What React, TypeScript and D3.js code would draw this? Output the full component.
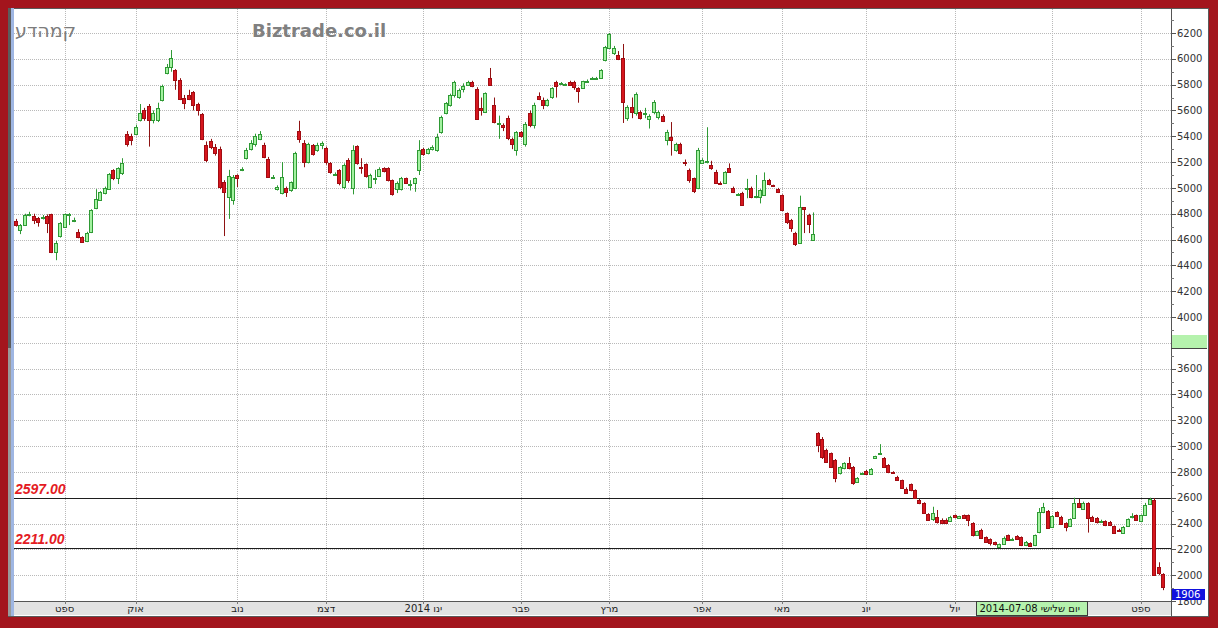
import React, { useEffect, useRef } from 'react';
import * as d3 from 'd3';

// daily OHLC, Sep 2013 - Sep 2014 (trading-day index)
const opens = [
  4743, 4673, 4712, 4795, 4782, 4765, 4772, 4782, 4797, 4503, 4627, 4697, 4795, 4745, 4657, 4619, 4588, 4657, 4843, 4906, 4960, 4991, 5138, 5076, 5115,
  5420, 5400, 5420, 5525, 5600, 5634, 5525, 5525, 5680, 5890, 5937, 5913, 5836, 5696, 5720, 5740, 5650, 5570, 5330, 5360, 5320, 5300, 5045, 4929, 4906,
  5100, 5140, 5231, 5300, 5340, 5380, 5330, 5223, 5080, 4990, 4960, 5000, 4983, 5000, 5440, 5350, 5200, 5330, 5290, 5330, 5310, 5192, 5105, 5138,
  5007, 5215, 5000, 5324, 5165, 5185, 5007, 5074, 5092, 5154, 5154, 5060, 4990, 4990, 5076, 5028, 5037, 5138, 5300, 5270, 5300, 5293, 5433, 5580, 5642,
  5720, 5704, 5766, 5797, 5820, 5766, 5620, 5587, 5851, 5642, 5497, 5490, 5541, 5380, 5293, 5433, 5340, 5580, 5487, 5712, 5680, 5642, 5704, 5820, 5810,
  5800, 5820, 5820, 5774, 5774, 5826, 5850,
  5848, 5851, 5991, 6084, 6045, 6029, 6006, 5541, 5626, 5580, 5587, 5570, 5530, 5587, 5549, 5557, 5370, 5394, 5293, 5340, 5200, 5138, 5076, 5000, 5192,
  5200, 5177, 5123, 5040, 5037, 5154, 5000, 4950, 4960, 4990, 5000, 4930, 4929, 4944, 5060, 5020, 4990, 4944, 4805, 4750, 4650, 4573, 4850, 4790, 4600,
  3100, 3054, 2969, 2945, 2891, 2790, 2829, 2868, 2837, 2721, 2790, 2806, 2783, 2907, 2945, 2907, 2852, 2800, 2760, 2736, 2667, 2705, 2659, 2581, 2558,
  2473, 2434, 2450, 2430, 2430, 2420, 2465, 2445, 2465, 2465, 2403, 2310, 2349, 2295, 2280, 2256, 2217, 2240, 2310, 2280, 2302, 2295, 2232, 2248, 2232,
  2333, 2488, 2496, 2372, 2488, 2450, 2403, 2380, 2442, 2558, 2511, 2558, 2450, 2442, 2420, 2419, 2411, 2380, 2350, 2325, 2380, 2450, 2465, 2420, 2465,
  2550, 2581, 2060, 2008,
];
const highs = [
  4760, 4720, 4800, 4815, 4800, 4775, 4790, 4795, 4800, 4590, 4735, 4800, 4805, 4770, 4680, 4625, 4660, 4835, 4990, 4975, 5010, 5115, 5145, 5160, 5230,
  5440, 5420, 5490, 5650, 5620, 5650, 5600, 5660, 5800, 5960, 6068, 5920, 5850, 5720, 5760, 5750, 5660, 5580, 5360, 5380, 5340, 5320, 5060, 5140, 5100,
  5105, 5160, 5310, 5370, 5420, 5440, 5350, 5240, 5100, 5020, 5200, 5010, 5050, 5280, 5520, 5370, 5350, 5340, 5350, 5360, 5320, 5200, 5120, 5145,
  5190, 5230, 5330, 5330, 5230, 5190, 5110, 5140, 5160, 5160, 5160, 5065, 5050, 5085, 5080, 5060, 5080, 5370, 5310, 5310, 5330, 5420, 5560, 5665, 5730,
  5830, 5770, 5810, 5830, 5830, 5780, 5700, 5740, 5929, 5700, 5560, 5500, 5560, 5390, 5440, 5440, 5510, 5600, 5660, 5740, 5700, 5690, 5780, 5830, 5820,
  5810, 5830, 5830, 5780, 5830, 5840, 5860,
  5860, 5920, 6100, 6200, 6100, 6060, 6115, 5640, 5700, 5740, 5600, 5620, 5570, 5680, 5600, 5570, 5450, 5510, 5350, 5350, 5220, 5150, 5080, 5310, 5230,
  5470, 5210, 5140, 5050, 5130, 5190, 5010, 4960, 4970, 5070, 5010, 5100, 4990, 5120, 5070, 5025, 5000, 4950, 4810, 4760, 4660, 4940, 4851, 4800, 4810,
  3108, 3070, 2980, 2950, 2900, 2845, 2875, 2915, 2845, 2760, 2795, 2815, 2830, 2925, 3015, 2915, 2860, 2805, 2770, 2740, 2680, 2710, 2665, 2590, 2565,
  2480, 2530, 2505, 2440, 2440, 2460, 2470, 2460, 2470, 2470, 2410, 2345, 2360, 2300, 2285, 2260, 2245, 2300, 2315, 2290, 2310, 2300, 2265, 2255, 2315,
  2520, 2560, 2505, 2465, 2495, 2460, 2410, 2440, 2600, 2590, 2570, 2565, 2460, 2450, 2430, 2425, 2420, 2385, 2360, 2380, 2440, 2480, 2470, 2470, 2560,
  2600, 2597, 2100, 2015,
];
const lows = [
  4700, 4642, 4705, 4780, 4720, 4700, 4755, 4650, 4495, 4440, 4615, 4690, 4712, 4735, 4610, 4575, 4580, 4650, 4835, 4900, 4950, 4985, 5060, 5030, 5100,
  5320, 5330, 5410, 5515, 5520, 5320, 5500, 5510, 5670, 5880, 5900, 5760, 5680, 5610, 5680, 5600, 5560, 5370, 5200, 5300, 5250, 4990, 4627, 4760, 4870,
  5007, 5130, 5220, 5290, 5320, 5370, 5230, 5080, 5070, 4980, 4950, 4930, 4970, 4990, 5350, 5160, 5190, 5250, 5280, 5300, 5180, 5110, 5095, 5020,
  4990, 5040, 4950, 5180, 5110, 5080, 5000, 5030, 5085, 5120, 5050, 4940, 4960, 4980, 5030, 4980, 4970, 5100, 5250, 5260, 5290, 5280, 5420, 5570, 5630,
  5700, 5690, 5740, 5790, 5780, 5533, 5560, 5580, 5790, 5500, 5380, 5440, 5370, 5300, 5250, 5390, 5320, 5470, 5460, 5680, 5610, 5630, 5690, 5700, 5800,
  5790, 5790, 5760, 5660, 5770, 5820, 5845,
  5840, 5845, 5980, 6080, 6030, 5990, 5503, 5520, 5540, 5560, 5530, 5540, 5460, 5570, 5530, 5510, 5330, 5250, 5280, 5260, 5170, 5040, 4960, 4990, 5185,
  5190, 5140, 5030, 5030, 5030, 5130, 4960, 4940, 4860, 4920, 4920, 4920, 4880, 4940, 5020, 5010, 4960, 4820, 4720, 4660, 4550, 4570, 4650, 4650, 4596,
  2953, 2900, 2870, 2830, 2720, 2780, 2820, 2820, 2700, 2715, 2785, 2780, 2780, 2900, 2940, 2830, 2790, 2790, 2730, 2670, 2630, 2650, 2590, 2550, 2475,
  2420, 2420, 2400, 2400, 2400, 2415, 2440, 2440, 2435, 2380, 2300, 2305, 2280, 2250, 2230, 2230, 2210, 2235, 2265, 2270, 2275, 2225, 2225, 2220, 2225,
  2325, 2480, 2360, 2365, 2450, 2390, 2340, 2375, 2435, 2520, 2505, 2330, 2415, 2400, 2410, 2380, 2380, 2320, 2340, 2320, 2375, 2440, 2420, 2410, 2460,
  2545, 2000, 2000, 1884,
];
const closes = [
  4712, 4712, 4790, 4800, 4750, 4735, 4776, 4727, 4503, 4573, 4727, 4797, 4800, 4752, 4619, 4580, 4650, 4828, 4913, 4968, 5000, 5107, 5076, 5154, 5192,
  5340, 5370, 5470, 5580, 5540, 5525, 5580, 5620, 5790, 5937, 6006, 5836, 5688, 5657, 5690, 5640, 5603, 5380, 5220, 5320, 5270, 5007, 4968, 5092, 5084,
  5076, 5150, 5293, 5350, 5400, 5420, 5240, 5084, 5088, 5007, 5084, 4968, 5045, 5270, 5380, 5200, 5340, 5260, 5330, 5350, 5200, 5123, 5109, 5037,
  5177, 5060, 5293, 5192, 5155, 5092, 5100, 5078, 5146, 5130, 5060, 4952, 5040, 5076, 5037, 5032, 5076, 5293, 5262, 5300, 5320, 5394, 5549, 5657, 5720,
  5820, 5758, 5790, 5820, 5790, 5533, 5600, 5735, 5797, 5510, 5503, 5470, 5386, 5340, 5433, 5400, 5495, 5487, 5642, 5690, 5642, 5680, 5774, 5790, 5814,
  5803, 5797, 5780, 5750, 5828, 5830, 5852,
  5852, 5913, 6092, 6192, 6084, 5998, 5665, 5626, 5587, 5727, 5541, 5580, 5555, 5665, 5587, 5518, 5433, 5370, 5340, 5270, 5192, 5060, 4975, 5293, 5215,
  5205, 5154, 5037, 5034, 5123, 5123, 4968, 4952, 4867, 4998, 4929, 4940, 4983, 5060, 5030, 5018, 4968, 4828, 4735, 4689, 4565, 4851, 4840, 4720, 4640,
  3007, 2914, 2876, 2837, 2752, 2837, 2868, 2829, 2713, 2752, 2792, 2783, 2821, 2922, 2950, 2837, 2798, 2795, 2736, 2674, 2636, 2659, 2597, 2558, 2481,
  2426, 2481, 2411, 2408, 2408, 2450, 2450, 2457, 2442, 2426, 2310, 2341, 2287, 2256, 2248, 2240, 2240, 2287, 2271, 2282, 2279, 2232, 2256, 2225, 2310,
  2488, 2527, 2364, 2457, 2457, 2395, 2372, 2434, 2558, 2527, 2558, 2442, 2419, 2411, 2422, 2388, 2388, 2325, 2348, 2372, 2434, 2455, 2426, 2465, 2543,
  2589, 2000, 2015, 1906,
];

// first trading day of each month (index into the arrays above)
const monthTickIndex = [11, 27, 50, 70, 92, 114, 134, 155, 173, 192, 212, 234, 254];
const monthLabels = ['ספט', 'אוק', 'נוב', 'דצמ', '2014 ינו', 'פבר', 'מרץ', 'אפר', 'מאי', 'יונ', 'יול', 'אוג', 'ספט'];

const priceTicks = [1800, 2000, 2200, 2400, 2600, 2800, 3000, 3200, 3400, 3600, 3800, 4000, 4200, 4400, 4600, 4800, 5000, 5200, 5400, 5600, 5800, 6000, 6200];
const supportLevels = [2597, 2211];
const lastPrice = 1906;
const cursorIndex = 217;
const cursorDate = '2014-07-08 יום שלישי';
const stockName = 'קמהדע';
const siteName = 'Biztrade.co.il';

const W = 1218;
const H = 628;
const FRAME = '#a3151d';

const App: React.FC = () => {
  const ref = useRef<SVGSVGElement>(null);

  useEffect(() => {
    const svg = d3.select(ref.current);
    svg.selectAll('*').remove();

    const plot = { left: 14, right: 1171, top: 9, bottom: 601 };

    const x = d3.scaleLinear().domain([0, opens.length - 1]).range([16, 1163]);
    const y = d3.scaleLinear().domain([1800, 6200]).range([601, 33]);

    // red frame + white panel
    svg.append('rect').attr('width', W).attr('height', H).attr('fill', FRAME);
    svg
      .append('rect')
      .attr('x', 8.5)
      .attr('y', 8.5)
      .attr('width', 1200)
      .attr('height', 608)
      .attr('fill', '#ffffff')
      .attr('stroke', '#5a5a5a');

    // scroll strip on the left
    svg.append('rect').attr('x', 8).attr('y', 8).attr('width', 3).attr('height', 340).attr('fill', '#5c5c5c');
    svg.append('rect').attr('x', 8).attr('y', 348).attr('width', 3).attr('height', 268).attr('fill', '#9a9a9a');
    svg.append('rect').attr('x', 11).attr('y', 8).attr('width', 3).attr('height', 608).attr('fill', '#9fb6e2');

    // horizontal grid
    svg
      .append('g')
      .selectAll('line')
      .data(priceTicks.filter((t) => t > 1800))
      .enter()
      .append('line')
      .attr('x1', plot.left)
      .attr('x2', plot.right)
      .attr('y1', (d) => Math.round(y(d)) + 0.5)
      .attr('y2', (d) => Math.round(y(d)) + 0.5)
      .attr('stroke', '#b9b9b9')
      .attr('stroke-dasharray', '1,1');

    // vertical month grid
    svg
      .append('g')
      .selectAll('line')
      .data(monthTickIndex)
      .enter()
      .append('line')
      .attr('x1', (d) => Math.round(x(d)) + 0.5)
      .attr('x2', (d) => Math.round(x(d)) + 0.5)
      .attr('y1', plot.top)
      .attr('y2', plot.bottom)
      .attr('stroke', '#b9b9b9')
      .attr('stroke-dasharray', '1,1');

    // support / resistance lines
    const levels = svg.append('g');
    supportLevels.forEach((lv) => {
      const ly = Math.round(y(lv)) + 0.5;
      levels
        .append('line')
        .attr('x1', plot.left)
        .attr('x2', plot.right)
        .attr('y1', ly)
        .attr('y2', ly)
        .attr('stroke', '#1e1e1e');
      levels
        .append('text')
        .attr('x', 15)
        .attr('y', ly - 5)
        .attr('fill', '#e41b23')
        .style('font-family', '"Liberation Sans", Arial, sans-serif')
        .style('font-size', '14px')
        .style('font-weight', 'bold')
        .style('font-style', 'italic')
        .text(lv.toFixed(2));
    });

    // candles
    const candles = opens.map((o, i) => ({ i, o, h: highs[i], l: lows[i], c: closes[i] }));
    const cg = svg.append('g');
    candles.forEach((d) => {
      const up = d.c >= d.o;
      const rx = Math.round(x(d.i));
      const wick = up ? '#2f9a35' : '#8e1212';
      cg.append('line')
        .attr('x1', rx + 0.5)
        .attr('x2', rx + 0.5)
        .attr('y1', y(d.h))
        .attr('y2', y(d.l))
        .attr('stroke', wick);
      const top = Math.round(y(Math.max(d.o, d.c)));
      const bot = Math.round(y(Math.min(d.o, d.c)));
      cg.append('rect')
        .attr('x', rx - 1.5)
        .attr('y', top + 0.5)
        .attr('width', 3)
        .attr('height', Math.max(bot - top, 1))
        .attr('fill', up ? '#a3f2a0' : '#d6161e')
        .attr('stroke', up ? '#2f9a35' : '#a10c12');
    });

    // x axis band
    svg
      .append('rect')
      .attr('x', plot.left)
      .attr('y', plot.bottom)
      .attr('width', plot.right - plot.left)
      .attr('height', 14)
      .attr('fill', '#e2e2e2');
    svg
      .append('line')
      .attr('x1', plot.left)
      .attr('x2', plot.right)
      .attr('y1', plot.bottom + 0.5)
      .attr('y2', plot.bottom + 0.5)
      .attr('stroke', '#555');

    // cursor date box (covers the month label underneath it)
    const boxX = Math.round(x(cursorIndex)) - 0.5;
    const boxW = 111;
    const xAxis = svg.append('g');
    xAxis
      .selectAll('line')
      .data(monthTickIndex)
      .enter()
      .append('line')
      .attr('x1', (d) => Math.round(x(d)) + 0.5)
      .attr('x2', (d) => Math.round(x(d)) + 0.5)
      .attr('y1', plot.bottom)
      .attr('y2', plot.bottom + 3)
      .attr('stroke', '#777');
    const visibleMonths = monthTickIndex
      .map((idx, i) => ({ idx, label: monthLabels[i] }))
      .filter((m) => x(m.idx) < boxX - 8 || x(m.idx) > boxX + boxW + 8);
    xAxis
      .selectAll('text')
      .data(visibleMonths)
      .enter()
      .append('text')
      .attr('x', (d) => x(d.idx))
      .attr('y', plot.bottom + 11)
      .attr('text-anchor', 'middle')
      .attr('fill', '#222')
      .style('font-family', '"DejaVu Sans", sans-serif')
      .style('font-size', '10px')
      .text((d) => d.label);

    svg
      .append('rect')
      .attr('x', boxX)
      .attr('y', plot.bottom + 0.5)
      .attr('width', boxW)
      .attr('height', 14)
      .attr('fill', '#b5f2ad')
      .attr('stroke', '#3b3b3b');
    svg
      .append('text')
      .attr('x', boxX + 3)
      .attr('y', plot.bottom + 11)
      .attr('fill', '#111')
      .style('font-family', '"DejaVu Sans", sans-serif')
      .style('font-size', '10px')
      .text(cursorDate);

    // right price axis
    svg
      .append('line')
      .attr('x1', plot.right + 0.5)
      .attr('x2', plot.right + 0.5)
      .attr('y1', plot.top)
      .attr('y2', 616)
      .attr('stroke', '#555');

    const yAxis = svg.append('g');
    const minorTicks = d3.range(1900, 6400, 200);
    yAxis
      .selectAll('line.minor')
      .data(minorTicks)
      .enter()
      .append('line')
      .attr('x1', plot.right)
      .attr('x2', plot.right + 3)
      .attr('y1', (d) => Math.round(y(d)) + 0.5)
      .attr('y2', (d) => Math.round(y(d)) + 0.5)
      .attr('stroke', '#777');
    yAxis
      .selectAll('line.major')
      .data(priceTicks)
      .enter()
      .append('line')
      .attr('x1', plot.right)
      .attr('x2', plot.right + 5)
      .attr('y1', (d) => Math.round(y(d)) + 0.5)
      .attr('y2', (d) => Math.round(y(d)) + 0.5)
      .attr('stroke', '#555');
    yAxis
      .selectAll('text')
      .data(priceTicks)
      .enter()
      .append('text')
      .attr('x', plot.right + 6)
      .attr('y', (d) => y(d))
      .attr('dy', '0.36em')
      .attr('fill', '#333')
      .style('font-family', '"DejaVu Sans", sans-serif')
      .style('font-size', '10px')
      .text((d) => String(d));

    // crosshair marker on the price axis
    svg
      .append('rect')
      .attr('x', plot.right + 1)
      .attr('y', 335)
      .attr('width', 35)
      .attr('height', 13)
      .attr('fill', '#b5f2ad');
    svg
      .append('line')
      .attr('x1', plot.right)
      .attr('x2', plot.right + 36)
      .attr('y1', 348.5)
      .attr('y2', 348.5)
      .attr('stroke', '#444');

    // last price box (sits over the lowest axis label)
    const lpY = Math.round(y(lastPrice)) + 2;
    svg
      .append('rect')
      .attr('x', plot.right + 1)
      .attr('y', lpY)
      .attr('width', 33)
      .attr('height', 11)
      .attr('fill', '#1111dd');
    svg
      .append('text')
      .attr('x', plot.right + 4)
      .attr('y', lpY + 9)
      .attr('fill', '#ffffff')
      .style('font-family', '"DejaVu Sans", sans-serif')
      .style('font-size', '10px')
      .text(String(lastPrice));

    // titles
    svg
      .append('text')
      .attr('x', 15)
      .attr('y', 37)
      .attr('fill', '#7c7c7c')
      .style('font-family', '"DejaVu Sans", sans-serif')
      .style('font-size', '19px')
      .text(stockName);
    svg
      .append('text')
      .attr('x', 252)
      .attr('y', 37)
      .attr('fill', '#808080')
      .style('font-family', '"DejaVu Sans", sans-serif')
      .style('font-size', '18px')
      .style('font-weight', 'bold')
      .text(siteName);
  }, []);

  return (
    <div style={{ position: 'absolute', left: 0, top: 0 }}>
      <svg ref={ref} width={W} height={H} style={{ display: 'block' }} />
    </div>
  );
};

export default App;
